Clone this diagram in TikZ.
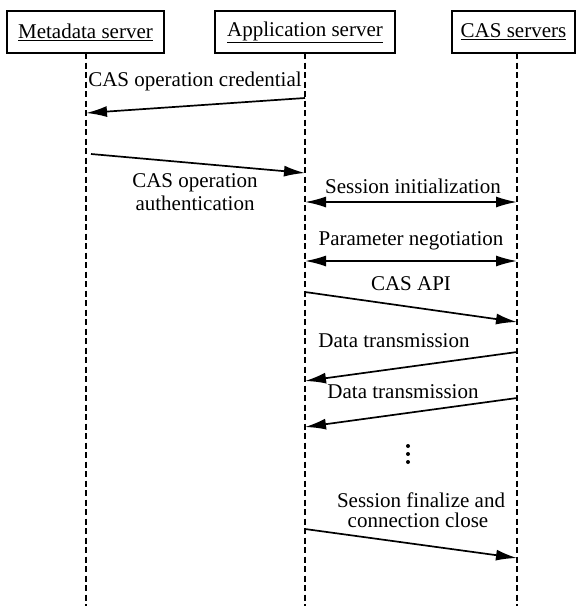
\documentclass[tikz,border=0pt]{standalone}
\usepackage{fontspec}
\setmainfont{Liberation Serif}
\usetikzlibrary{arrows.meta}
\begin{document}
\begin{tikzpicture}[x=1pt,y=-1pt,
  every node/.style={font=\fontsize{21}{23}\selectfont, inner sep=0pt},
  actor/.style={draw, line width=1.1pt, minimum height=42pt, inner sep=0pt},
  life/.style={line width=1.2pt, dash pattern=on 6pt off 3.5pt},
  msg/.style={line width=1.7pt, -{Latex[length=21pt,width=11pt]}},
  bimsg/.style={line width=1.7pt, {Latex[length=21pt,width=11pt]}-{Latex[length=21pt,width=11pt]}},
  lbl/.style={anchor=base, align=center},
  dot/.style={circle, fill, minimum size=4pt, inner sep=0pt}]
\useasboundingbox (0,0) rectangle (576,606);

% participants
\node[actor, minimum width=157pt] (meta) at (85.5,32) {\underline{Metadata server}};
\node[actor, minimum width=180pt] (app) at (305,32) {\underline{Application server}};
\node[actor, minimum width=123pt] (cas) at (513.5,32) {\underline{CAS servers}};

% lifelines
\coordinate (mt) at (86,53);  \coordinate (mb) at (86,606);
\coordinate (at) at (305,53); \coordinate (ab) at (305,606);
\coordinate (ct) at (517,53); \coordinate (cb) at (517,606);
\draw[life] (mt) -- (mb);
\draw[life] (at) -- (ab);
\draw[life] (ct) -- (cb);

% message end points on the lifelines
\coordinate (m1s) at (305,98);  \coordinate (m1e) at (86,113);
\coordinate (m2s) at (91,154);  \coordinate (m2e) at (305,173);
\coordinate (m3s) at (305,202); \coordinate (m3e) at (517,202);
\coordinate (m4s) at (305,261); \coordinate (m4e) at (517,261);
\coordinate (m5s) at (305,292); \coordinate (m5e) at (517,322);
\coordinate (m6s) at (517,352); \coordinate (m6e) at (305,381);
\coordinate (m7s) at (517,398); \coordinate (m7e) at (305,427);
\coordinate (m8s) at (305,529); \coordinate (m8e) at (517,558);

% messages
\draw[msg] (m1s) -- (m1e);
\draw[msg] (m2s) -- (m2e);
\draw[bimsg] (m3s) -- (m3e);
\draw[bimsg] (m4s) -- (m4e);
\draw[msg] (m5s) -- (m5e);
\draw[msg] (m6s) -- (m6e);
\draw[msg] (m7s) -- (m7e);
\draw[msg] (m8s) -- (m8e);

% message labels
\node[lbl] (l1) at (195,86) {CAS operation credential};
\node[lbl] (l2a) at (195,187) {CAS operation};
\node[lbl] (l2b) at (195,210) {authentication};
\node[lbl] (l3) at (413,193) {Session initialization};
\node[lbl] (l4) at (411,245) {Parameter negotiation};
\node[lbl] (l5) at (411,290) {CAS API};
\node[lbl] (l6) at (394,347) {Data transmission};
\node[lbl] (l7) at (403,398) {Data transmission};
\node[lbl] (l8a) at (421,507) {Session finalize and};
\node[lbl] (l8b) at (418,527) {connection close};

% continuation dots
\node[dot] (d1) at (408,446) {};
\node[dot] (d2) at (408,454) {};
\node[dot] (d3) at (408,462) {};
\end{tikzpicture}
\end{document}
